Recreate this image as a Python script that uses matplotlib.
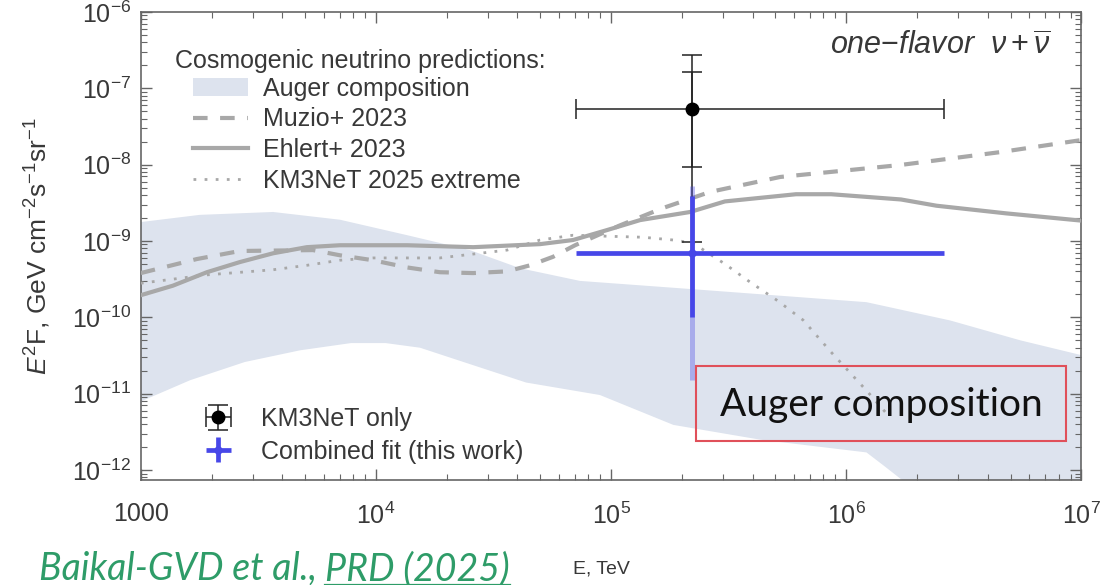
import numpy as np
import matplotlib
matplotlib.use("Agg")
import matplotlib.pyplot as plt
from matplotlib.patches import Rectangle
from matplotlib.lines import Line2D

plt.rcParams['font.family'] = ['Liberation Sans', 'DejaVu Sans']
plt.rcParams['mathtext.fontset'] = 'custom'
plt.rcParams['mathtext.rm'] = 'Liberation Sans'
plt.rcParams['mathtext.it'] = 'Liberation Sans:italic'
plt.rcParams['mathtext.bf'] = 'Liberation Sans:bold'

# Auger composition band: upper and lower edge (E in TeV, E^2F)
band_up_E = [1000, 1780, 3650, 7030, 1.36e4, 2.51e4, 4.10e4, 7.38e4, 2.39e5, 1.22e6, 2.77e6, 5.50e6, 1e7]
band_up_F = [1.77e-9, 2.2e-9, 2.4e-9, 1.9e-9, 1.19e-9, 7.6e-10, 4.4e-10, 3.0e-10, 2.3e-10,
             1.58e-10, 9.1e-11, 5.0e-11, 3.2e-11]
band_lo_E = [1000, 1620, 2770, 4760, 7830, 1.10e4, 1.54e4, 2.19e4, 4.35e4, 8.97e4, 1.84e5,
             4.30e5, 1.22e6, 1.44e6, 1.71e6, 2.77e6, 1e7]
band_lo_F = [7.9e-12, 1.5e-11, 2.6e-11, 3.7e-11, 4.6e-11, 4.6e-11, 4.0e-11, 2.8e-11, 1.4e-11,
             9.6e-12, 3.9e-12, 2.5e-12, 1.7e-12, 1.15e-12, 7.6e-13, 2.2e-13, 6.6e-14]

# Muzio+ 2023
muzio_E = [1000, 1730, 2640, 5400, 7030, 9700, 1.36e4, 1.87e4, 2.59e4, 3.61e4, 4.52e4, 5.66e4,
           7.03e4, 1.09e5, 1.66e5, 2.64e5, 5.24e5, 1.70e6, 4.52e6, 1e7]
muzio_F = [3.8e-10, 5.8e-10, 7.4e-10, 7.6e-10, 6.5e-10, 5.6e-10, 4.5e-10, 3.9e-10, 3.8e-10,
           4.0e-10, 4.8e-10, 6.2e-10, 8.8e-10, 1.6e-9, 2.7e-9, 4.4e-9, 6.9e-9, 9.9e-9, 1.46e-8, 2.1e-8]

# Ehlert+ 2023
ehlert_E = [1000, 1370, 1910, 2640, 3650, 5080, 7030, 1.36e4, 2.59e4, 4.99e4, 6.89e4, 9.61e4,
            1.33e5, 2.17e5, 3.05e5, 6.12e5, 8.63e5, 1.71e6, 2.42e6, 4.80e6, 1e7]
ehlert_F = [1.95e-10, 2.6e-10, 3.9e-10, 5.3e-10, 6.9e-10, 8.3e-10, 8.8e-10, 8.8e-10, 8.3e-10,
            9.1e-10, 1.03e-9, 1.39e-9, 1.88e-9, 2.4e-9, 3.3e-9, 4.1e-9, 4.1e-9, 3.5e-9, 2.9e-9,
            2.3e-9, 1.85e-9]

# KM3NeT 2025 extreme
km3x_E = [1000, 1910, 3650, 5080, 7030, 9700, 1.87e4, 3.61e4, 4.99e4, 6.89e4, 1.37e5, 1.84e5,
          2.23e5, 3.05e5, 3.90e5, 5.14e5, 6.56e5, 8.63e5, 1.09e6, 1.22e6, 1.47e6]
km3x_F = [2.8e-10, 3.6e-10, 4.2e-10, 4.8e-10, 5.6e-10, 6.0e-10, 6.0e-10, 7.6e-10, 1.03e-9,
          1.19e-9, 1.12e-9, 1.03e-9, 9.4e-10, 5.0e-10, 2.9e-10, 1.63e-10, 9.2e-11, 3.5e-11,
          1.6e-11, 1.1e-11, 5.7e-12]

# measured points
E0 = 2.2e5
E_range = [7.1e4, 2.6e6]
km3_F = 5.3e-8
km3_1s = [9.3e-9, 1.64e-7]
km3_2s = [9.8e-10, 2.7e-7]
fit_F = 7.0e-10
fit_1s = [1.0e-10, 3.9e-9]
fit_2s = [1.5e-11, 5.3e-9]

xticks = [1e3, 1e4, 1e5, 1e6, 1e7]
xlabels = ['1000', r'$10^4$', r'$10^5$', r'$10^6$', r'$10^7$']
yticks = [1e-12, 1e-11, 1e-10, 1e-9, 1e-8, 1e-7, 1e-6]
ylabels = [r'$10^{-12}$', r'$10^{-11}$', r'$10^{-10}$', r'$10^{-9}$', r'$10^{-8}$',
           r'$10^{-7}$', r'$10^{-6}$']

band_col = '#dde3ee'
grey = '#a8a8a8'
blue = '#4747e8'
txt = '#383838'

fig = plt.figure(figsize=(11, 5.85), dpi=100)
ax = fig.add_axes([0.128, 0.1795, 0.855, 0.80])
ax.set_xscale('log')
ax.set_yscale('log')

band = ax.fill(np.r_[band_up_E, band_lo_E[::-1]], np.r_[band_up_F, band_lo_F[::-1]],
               color=band_col, lw=0, zorder=1, label='Auger composition')[0]
l_mu, = ax.plot(muzio_E, muzio_F, color=grey, lw=3, ls=(0, (3.5, 3)), zorder=3, label='Muzio+ 2023')
l_eh, = ax.plot(ehlert_E, ehlert_F, color=grey, lw=3, zorder=3, label='Ehlert+ 2023')
l_km, = ax.plot(km3x_E, km3x_F, color=grey, lw=2, ls=(0, (1, 3)), zorder=3,
                label='KM3NeT 2025 extreme')

# KM3NeT only
xerr = [[E0 - E_range[0]], [E_range[1] - E0]]
ax.errorbar(E0, km3_F, yerr=[[km3_F - km3_2s[0]], [km3_2s[1] - km3_F]], fmt='none',
            ecolor='#222222', elinewidth=1.1, capsize=7, capthick=1.1, zorder=4)
eb_km3 = ax.errorbar(E0, km3_F, xerr=xerr, yerr=[[km3_F - km3_1s[0]], [km3_1s[1] - km3_F]],
                     fmt='o', color='black', ms=9, ecolor='#222222', elinewidth=1.1,
                     capsize=7, capthick=1.1, zorder=5, label='KM3NeT only')

# combined fit
ax.errorbar(E0, fit_F, yerr=[[fit_F - fit_2s[0]], [fit_2s[1] - fit_F]], fmt='none',
            ecolor=blue, alpha=0.35, elinewidth=3.6, capsize=0, zorder=6)
eb_fit = ax.errorbar(E0, fit_F, xerr=xerr, yerr=[[fit_F - fit_1s[0]], [fit_1s[1] - fit_F]],
                     fmt='o', color=blue, ms=5, elinewidth=3.4, capsize=0, zorder=7,
                     label='Combined fit (this work)')

ax.set_xlim(1e3, 1e7)
ax.set_ylim(7.4e-13, 1e-6)
ax.set_xticks(xticks)
ax.set_xticklabels(xlabels)
ax.set_yticks(yticks)
ax.set_yticklabels(ylabels)
ax.tick_params(which='both', direction='in', top=True, right=True, color='#666666',
               labelsize=18, labelcolor=txt)
ax.tick_params(which='major', length=8, width=1)
ax.tick_params(which='minor', length=4, width=0.8)
ax.tick_params(axis='x', pad=16)
ax.tick_params(axis='y', pad=7)
for s in ax.spines.values():
    s.set_edgecolor('#666666')
    s.set_linewidth(1.2)

ax.set_ylabel(r'$E^2$F, GeV cm$^{-2}$s$^{-1}$sr$^{-1}$', fontsize=19, color=txt, labelpad=14)

# legends
ax.text(0.036, 0.896, 'Cosmogenic neutrino predictions:', transform=ax.transAxes,
        fontsize=18, color=txt, va='center', ha='left')
leg1 = ax.legend(handles=[band, l_mu, l_eh, l_km], loc='upper left', bbox_to_anchor=(0.056, 0.862),
                 frameon=False, fontsize=18, handlelength=2.2, handletextpad=0.6,
                 labelspacing=0.27, borderpad=0, borderaxespad=0, labelcolor=txt)
ax.add_artist(leg1)
leg2 = ax.legend(handles=[eb_km3, eb_fit], loc='lower left', bbox_to_anchor=(0.053, 0.035),
                 frameon=False, fontsize=18, handlelength=2.2, handletextpad=0.6,
                 labelspacing=0.35, borderpad=0, borderaxespad=0, labelcolor=txt)

ax.text(0.967, 0.957, r'one$-$flavor  $\nu+\overline{\nu}$', transform=ax.transAxes,
        fontsize=22, style='italic', color=txt, ha='right', va='top')

# red box
ax.add_patch(Rectangle((0.590, 0.083), 0.394, 0.161, transform=ax.transAxes, fill=False,
                       edgecolor='#e0505a', lw=1.5, zorder=8))
ax.text(0.787, 0.160, 'Auger composition', transform=ax.transAxes, fontsize=28,
        family=['Lato', 'DejaVu Sans'], color='#111111', ha='center', va='center', zorder=9)

# bottom texts
fig.text(0.521, 0.027, 'E, TeV', fontsize=14, color=txt, ha='left', va='center')
green = '#2e9c68'
t1 = fig.text(0.035, 0.027, 'Baikal-GVD et al., ', fontsize=27, style='italic', color=green,
              family=['Lato', 'DejaVu Sans'], ha='left', va='center')
fig.canvas.draw()
bb = t1.get_window_extent()
x2 = bb.x1 / fig.bbox.width
t2 = fig.text(x2, 0.027, 'PRD (2025)', fontsize=27, style='italic', color=green,
              family=['Lato', 'DejaVu Sans'], ha='left', va='center')
fig.canvas.draw()
bb2 = t2.get_window_extent()
fig.add_artist(Line2D([bb2.x0 / fig.bbox.width, bb2.x1 / fig.bbox.width],
                      [bb2.y0 / fig.bbox.height + 0.004] * 2, color=green, lw=1.6))

fig.savefig('out.png', dpi=100)
